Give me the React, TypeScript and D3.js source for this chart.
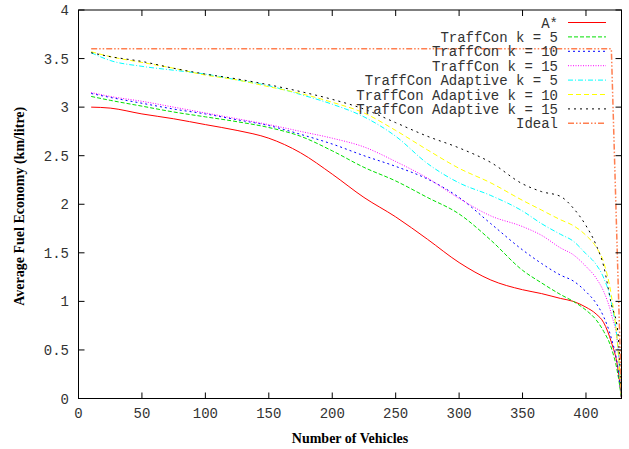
import React from 'react';
import * as d3 from 'd3';

// vehicles on the x axis (shared by all measured series)
const vehicles = [10, 25, 50, 75, 100, 125, 150, 175, 200, 225, 250, 275, 300, 325, 350, 365, 380, 390, 400, 408, 414, 420, 425, 428];

const aStar = [3.0, 2.99, 2.93, 2.88, 2.82, 2.76, 2.68, 2.53, 2.31, 2.07, 1.87, 1.64, 1.4, 1.22, 1.12, 1.08, 1.03, 1.0, 0.94, 0.87, 0.78, 0.58, 0.32, 0.0];
const traffK5 = [3.11, 3.07, 3.01, 2.95, 2.9, 2.85, 2.79, 2.7, 2.55, 2.38, 2.24, 2.07, 1.9, 1.63, 1.32, 1.19, 1.07, 1.0, 0.91, 0.81, 0.69, 0.52, 0.26, 0.0];
const traffK10 = [3.14, 3.1, 3.04, 2.98, 2.93, 2.87, 2.81, 2.72, 2.62, 2.5, 2.39, 2.26, 2.07, 1.8, 1.53, 1.39, 1.27, 1.21, 1.1, 0.98, 0.84, 0.62, 0.33, 0.0];
const traffK15 = [3.15, 3.11, 3.06, 3.0, 2.94, 2.88, 2.82, 2.75, 2.68, 2.59, 2.44, 2.27, 2.06, 1.88, 1.77, 1.68, 1.55, 1.48, 1.36, 1.24, 1.1, 0.87, 0.55, 0.0];
const adaptK5 = [3.56, 3.48, 3.42, 3.38, 3.34, 3.28, 3.22, 3.13, 3.03, 2.9, 2.7, 2.42, 2.22, 2.09, 1.93, 1.8, 1.69, 1.62, 1.49, 1.38, 1.24, 0.99, 0.55, 0.0];
const adaptK10 = [3.57, 3.52, 3.46, 3.4, 3.33, 3.28, 3.21, 3.14, 3.05, 2.94, 2.76, 2.56, 2.37, 2.22, 2.04, 1.94, 1.84, 1.78, 1.68, 1.56, 1.4, 1.06, 0.55, 0.0];
const adaptK15 = [3.56, 3.52, 3.47, 3.4, 3.34, 3.29, 3.23, 3.16, 3.08, 2.98, 2.84, 2.7, 2.58, 2.43, 2.21, 2.13, 2.08, 1.96, 1.78, 1.58, 1.36, 0.97, 0.7, 0.0];

const idealX = [10, 420, 428];
const idealY = [3.6, 3.6, 0];

const xTicks = [0, 50, 100, 150, 200, 250, 300, 350, 400];
const yTicks = [0, 0.5, 1, 1.5, 2, 2.5, 3, 3.5, 4];

const labels = ['A*', 'TraffCon k = 5', 'TraffCon k = 10', 'TraffCon k = 15', 'TraffCon Adaptive k = 5', 'TraffCon Adaptive k = 10', 'TraffCon Adaptive k = 15', 'Ideal'];

const styles = [
  { color: '#ff0000', dash: null, width: 1 },
  { color: '#00e000', dash: '4,2', width: 1 },
  { color: '#0000ff', dash: '2,3', width: 1 },
  { color: '#ff00ff', dash: '1,1.5', width: 1 },
  { color: '#00ffff', dash: '5,2,1,2', width: 1 },
  { color: '#ffff00', dash: '5,3', width: 1 },
  { color: '#000000', dash: '2,4', width: 1 },
  { color: '#ff7f50', dash: '6,2,1.5,2,1.5,2', width: 1.5 },
];

const W = 629;
const H = 449;
const margin = { left: 78.5, right: 7.5, top: 10, bottom: 50.5 };
const monoFont = '"Liberation Mono", "DejaVu Sans Mono", monospace';
const serifFont = '"Liberation Serif", "Times New Roman", serif';

export default function App() {
  const x = d3.scaleLinear().domain([0, 428]).range([margin.left, W - margin.right]);
  const y = d3.scaleLinear().domain([0, 4]).range([H - margin.bottom, margin.top]);

  const line = d3
    .line<[number, number]>()
    .x((d) => x(d[0]))
    .y((d) => y(d[1]))
    .curve(d3.curveMonotoneX);
  const straight = d3
    .line<[number, number]>()
    .x((d) => x(d[0]))
    .y((d) => y(d[1]));

  const measured = [aStar, traffK5, traffK10, traffK15, adaptK5, adaptK10, adaptK15];
  const paths = measured.map((vals) => line(vehicles.map((v, i) => [v, vals[i]] as [number, number])));
  paths.push(straight(idealX.map((v, i) => [v, idealY[i]] as [number, number])));

  const x0 = x.range()[0];
  const x1 = x.range()[1];
  const y0 = y.range()[0];
  const y1 = y.range()[1];
  const tick = 6;

  return (
    <svg width={W} height={H} style={{ position: 'absolute', left: 0, top: 0, background: '#fff' }}>
      {/* curves */}
      <g fill="none">
        {paths.map((p, i) => (
          <path
            key={i}
            d={p || ''}
            stroke={styles[i].color}
            strokeWidth={styles[i].width}
            strokeDasharray={styles[i].dash || undefined}
          />
        ))}
      </g>

      {/* frame and ticks */}
      <rect x={x0} y={y1} width={x1 - x0} height={y0 - y1} fill="none" stroke="#000" strokeWidth={1} />
      {xTicks.map((t) => (
        <g key={'x' + t}>
          <line x1={x(t)} x2={x(t)} y1={y0} y2={y0 - tick} stroke="#000" />
          <line x1={x(t)} x2={x(t)} y1={y1} y2={y1 + tick} stroke="#000" />
          <text x={x(t)} y={418} textAnchor="middle" fontFamily={monoFont} fontSize={14} fill="#333">
            {t}
          </text>
        </g>
      ))}
      {yTicks.map((t) => (
        <g key={'y' + t}>
          <line x1={x0} x2={x0 + tick} y1={y(t)} y2={y(t)} stroke="#000" />
          <line x1={x1} x2={x1 - tick} y1={y(t)} y2={y(t)} stroke="#000" />
          <text x={69} y={y(t) + 5} textAnchor="end" fontFamily={monoFont} fontSize={14} fill="#333">
            {t}
          </text>
        </g>
      ))}

      {/* axis titles */}
      <text x={(x0 + x1) / 2} y={443} textAnchor="middle" fontFamily={serifFont} fontWeight="bold" fontSize={14}>
        Number of Vehicles
      </text>
      <text
        transform={`translate(24, ${(y0 + y1) / 2 + 2}) rotate(-90)`}
        textAnchor="middle"
        fontFamily={serifFont}
        fontWeight="bold"
        fontSize={14}
      >
        Average Fuel Economy (km/litre)
      </text>

      {/* legend */}
      {labels.map((lab, i) => (
        <g key={lab}>
          <text x={558} y={27.5 + i * 14.4} textAnchor="end" fontFamily={monoFont} fontSize={14} fill="#333">
            {lab}
          </text>
          <line
            x1={568}
            x2={606}
            y1={22.5 + i * 14.4}
            y2={22.5 + i * 14.4}
            stroke={styles[i].color}
            strokeWidth={styles[i].width}
            strokeDasharray={styles[i].dash || undefined}
          />
        </g>
      ))}
    </svg>
  );
}
